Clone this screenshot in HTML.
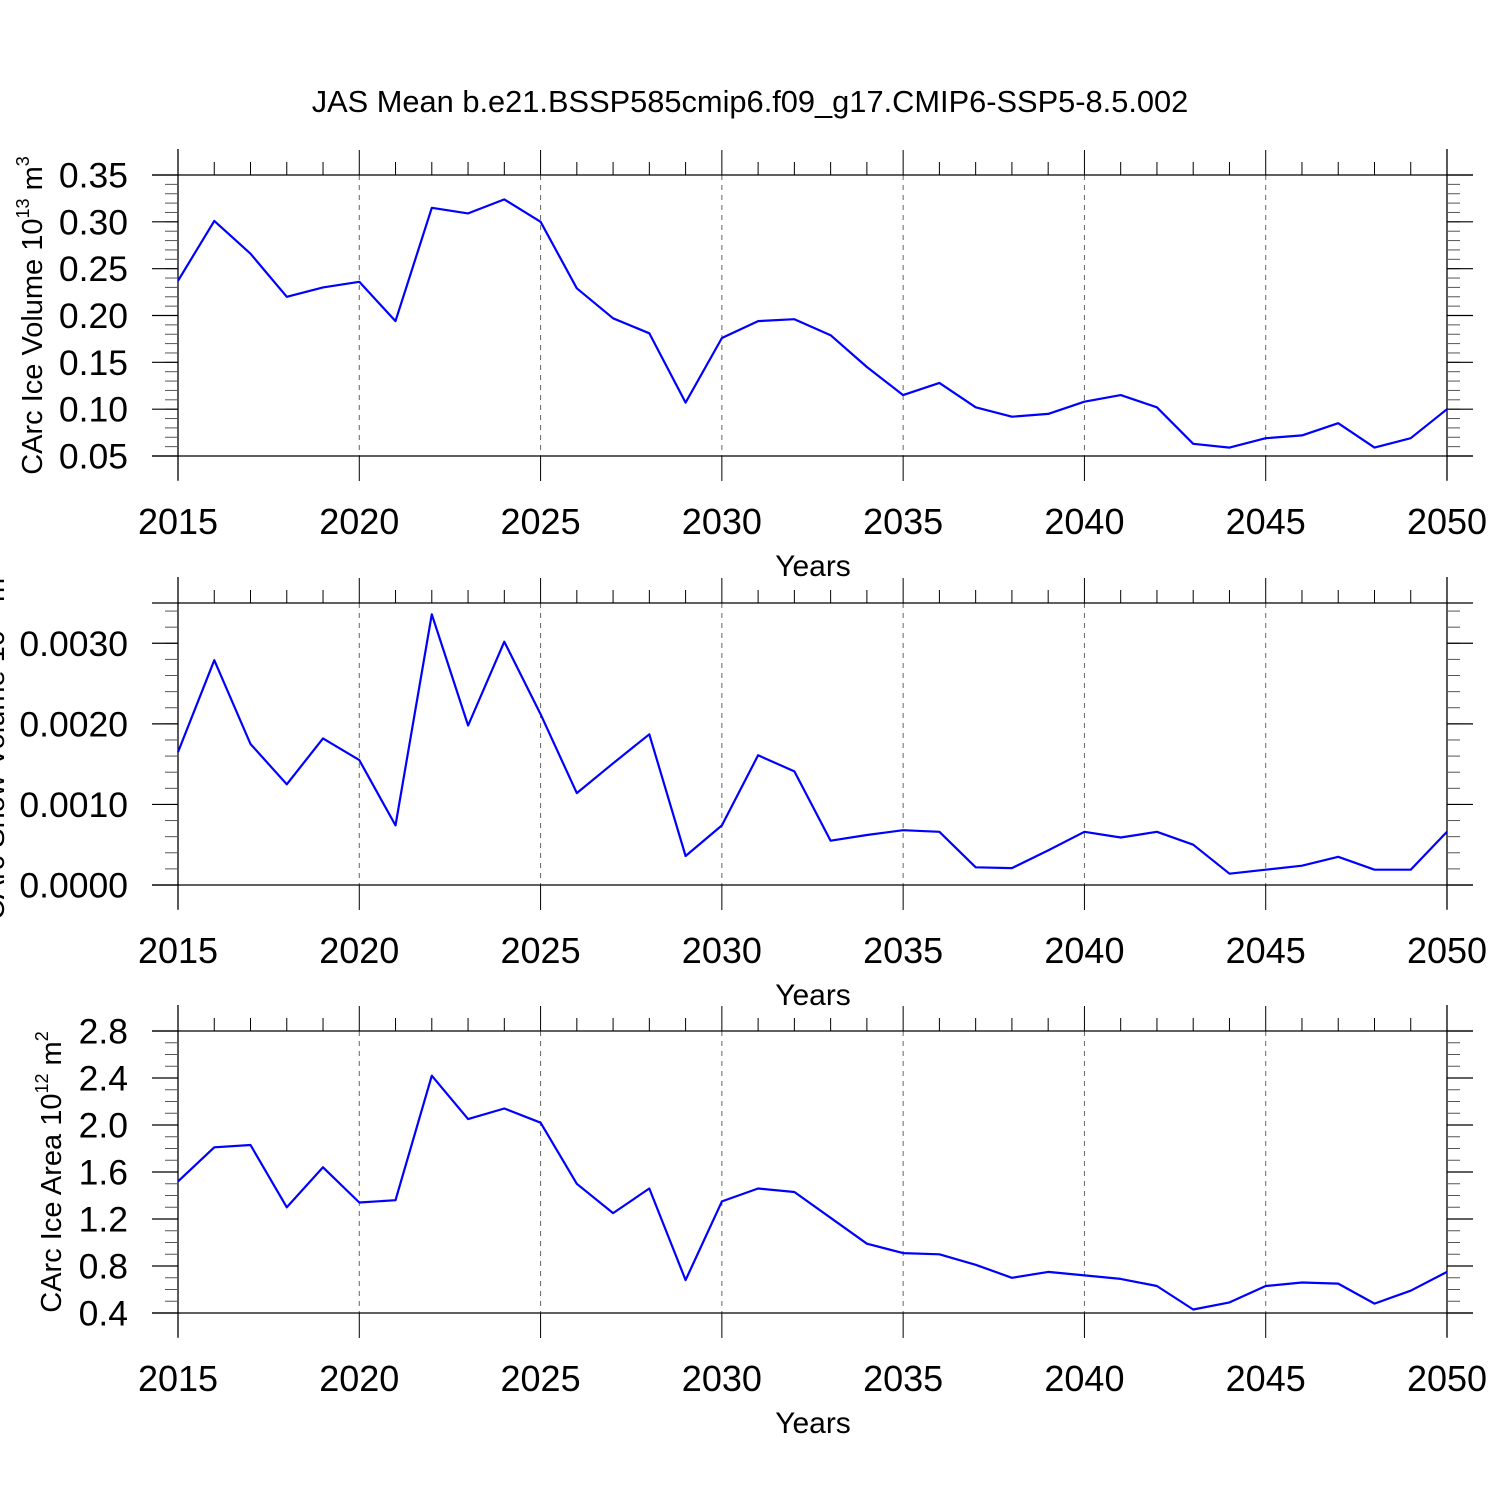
<!DOCTYPE html>
<html><head><meta charset="utf-8"><style>
html,body{margin:0;padding:0;background:#fff;}
svg{display:block;font-family:"Liberation Sans",sans-serif;}
</style></head><body>
<svg id="chart" width="1500" height="1500" viewBox="0 0 1500 1500"></svg>
<script>
const years = [];
for (let y = 2015; y <= 2050; y++) years.push(y);
const iceVolume = [0.237,0.301,0.266,0.220,0.230,0.236,0.194,0.315,0.309,0.324,0.300,0.229,0.197,0.181,0.107,0.176,0.194,0.196,0.179,0.145,0.115,0.128,0.102,0.092,0.095,0.108,0.115,0.102,0.063,0.059,0.069,0.072,0.085,0.059,0.069,0.100];
const snowVolume = [0.00165,0.00279,0.00175,0.00125,0.00182,0.00155,0.00074,0.00336,0.00198,0.00302,0.00212,0.00114,0.00151,0.00187,0.00036,0.00074,0.00161,0.00141,0.00055,0.00062,0.00068,0.00066,0.00022,0.00021,0.00043,0.00066,0.00059,0.00066,0.00050,0.00014,0.00019,0.00024,0.00035,0.00019,0.00019,0.00066];
const iceArea = [1.52,1.81,1.83,1.30,1.64,1.34,1.36,2.42,2.05,2.14,2.02,1.50,1.25,1.46,0.68,1.35,1.46,1.43,1.21,0.99,0.91,0.90,0.81,0.70,0.75,0.72,0.69,0.63,0.43,0.49,0.63,0.66,0.65,0.48,0.59,0.75];
const xTickLabels = [2015,2020,2025,2030,2035,2040,2045,2050];
const volTicks = ["0.05","0.10","0.15","0.20","0.25","0.30","0.35"];
const snowTicks = ["0.0000","0.0010","0.0020","0.0030"];
const areaTicks = ["0.4","0.8","1.2","1.6","2.0","2.4","2.8"];

const svg = document.getElementById('chart');
const NS = 'http://www.w3.org/2000/svg';
function mk(tag, attrs, parent) {
  const e = document.createElementNS(NS, tag);
  for (const k in attrs) e.setAttribute(k, attrs[k]);
  (parent || svg).appendChild(e);
  return e;
}
const X0 = 178, X1 = 1447;
const xScale = yr => X0 + (yr - 2015) / 35 * (X1 - X0);

const title = mk('text', {x: 750, y: 112, 'font-size': 30.8, 'text-anchor': 'middle'});
title.textContent = 'JAS Mean b.e21.BSSP585cmip6.f09_g17.CMIP6-SSP5-8.5.002';



function panel(cfg) {
  const g = mk('g', {});
  
  
  const T = cfg.top, B = cfg.bottom;
  const yScale = v => B - (v - cfg.ymin) / (cfg.ymax - cfg.ymin) * (B - T);
  xTickLabels.forEach(yr => {
    if (yr === 2015 || yr === 2050) return;
    const x = xScale(yr);
    const l = mk('line', {x1: x, x2: x, y1: T, y2: B, stroke: '#666', 'stroke-width': 1, 'stroke-dasharray': '5,5'}, g);
    
    
  });
  const ax = mk('g', {stroke: '#000', 'stroke-width': 1.3}, g);
  
  
  mk('line', {x1: 152, x2: 1473, y1: T, y2: T}, ax);
  mk('line', {x1: 152, x2: 1473, y1: B, y2: B}, ax);
  mk('line', {x1: X0, x2: X0, y1: T - 26, y2: B + 24}, ax);
  mk('line', {x1: X1, x2: X1, y1: T - 26, y2: B + 24}, ax);
  years.forEach(yr => {
    const x = xScale(yr);
    const major = (yr % 5 === 0);
    const len = major ? 25 : 13;
    mk('line', {x1: x, x2: x, y1: T, y2: T - len, stroke: '#000', 'stroke-width': 1}, g);
    if (major) mk('line', {x1: x, x2: x, y1: B, y2: B + len, stroke: '#000', 'stroke-width': 1}, g);
  });
  xTickLabels.forEach(yr => {
    const t = mk('text', {x: xScale(yr), y: B + 78, 'font-size': 36, 'text-anchor': 'middle'}, g);
    t.textContent = yr;
    
    
  });
  const xt = mk('text', {x: 813, y: B + 120, 'font-size': 30, 'text-anchor': 'middle'}, g);
  xt.textContent = 'Years';
  
  
  for (let v = cfg.ymin; v <= cfg.ymax + 1e-9; v += cfg.minor) {
    const y = yScale(v);
    mk('line', {x1: X0, x2: X0 - 13, y1: y, y2: y, stroke: '#555', 'stroke-width': 1}, g);
    mk('line', {x1: X1, x2: X1 + 13, y1: y, y2: y, stroke: '#555', 'stroke-width': 1}, g);
  }
  cfg.ticks.forEach(lbl => {
    const y = yScale(parseFloat(lbl));
    mk('line', {x1: X0, x2: 152, y1: y, y2: y, stroke: '#000', 'stroke-width': 1.2}, g);
    mk('line', {x1: X1, x2: 1473, y1: y, y2: y, stroke: '#000', 'stroke-width': 1.2}, g);
    const t = mk('text', {x: 128, y: y + 12.5, 'font-size': 35.5, 'text-anchor': 'end'}, g);
    t.textContent = lbl;
    
    
  });
  const yt = mk('text', {x: 0, y: 0, 'font-size': 29, 'text-anchor': 'middle', transform: `translate(${cfg.ytx},${(T + B) / 2}) rotate(-90)`}, g);
  yt.innerHTML = cfg.ytitle + ' 10<tspan dy="-13" font-size="18">' + cfg.exp + '</tspan><tspan dy="13"> m</tspan><tspan dy="-13" font-size="18">' + cfg.unitExp + '</tspan>';
  
  
  const d = cfg.data.map((v, i) => (i ? 'L' : 'M') + xScale(years[i]).toFixed(1) + ',' + yScale(v).toFixed(1)).join(' ');
  const p = mk('path', {d: d, fill: 'none', stroke: '#0000ff', 'stroke-width': 2.2, 'stroke-linejoin': 'round'}, g);
  
  
}

panel({name: 'ice-volume-panel', top: 175, bottom: 456, ymin: 0.05, ymax: 0.35, minor: 0.01, ticks: volTicks, data: iceVolume, ytitle: 'CArc Ice Volume', exp: '13', unitExp: '3', ytx: 42});
panel({name: 'snow-volume-panel', top: 603, bottom: 885, ymin: 0, ymax: 0.0035, minor: 0.0002, ticks: snowTicks, data: snowVolume, ytitle: 'CArc Snow Volume', exp: '13', unitExp: '3', ytx: 4});
panel({name: 'ice-area-panel', top: 1031, bottom: 1313, ymin: 0.4, ymax: 2.8, minor: 0.1, ticks: areaTicks, data: iceArea, ytitle: 'CArc Ice Area', exp: '12', unitExp: '2', ytx: 61});
</script>
</body></html>
